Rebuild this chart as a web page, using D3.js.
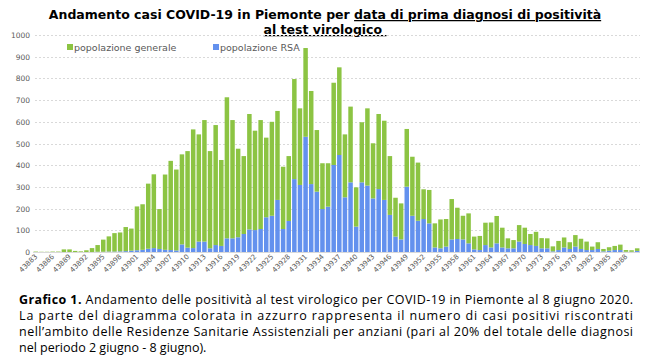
<!DOCTYPE html>
<html>
<head>
<meta charset="utf-8">
<script src="https://cdn.jsdelivr.net/npm/d3@7"></script>
<style>
  body { margin: 0; background: #fff; }
  svg { display: block; }
</style>
</head>
<body>
<svg id="chart" width="650" height="361"></svg>
<script>
// serial day numbers (Excel) 43883 .. 43990
var days = d3.range(43883, 43991);

// casi RSA (parte blu, in basso)
var rsa = [0, 0, 0, 0, 0, 0, 0, 0, 0, 0, 0, 1, 1, 2, 2, 3, 4, 6, 8, 10,
    15, 18, 14, 10, 9, 7, 35, 20, 18, 48, 48, 17, 32, 28, 63, 63, 68, 83, 104, 101,
    106, 160, 167, 240, 106, 143, 336, 309, 531, 313, 278, 198, 209, 401, 447, 252, 321, 117, 321, 306,
    247, 290, 240, 171, 71, 58, 301, 167, 144, 152, 132, 21, 17, 25, 58, 60, 58, 40, 12, 9,
    32, 21, 40, 21, 17, 17, 48, 37, 32, 28, 17, 17, 3, 9, 21, 14, 25, 14, 9, 9,
    14, 3, 6, 9, 9, 1, 1, 5];

// popolazione generale (parte verde, sopra)
var generale = [2, 1, 1, 2, 2, 12, 12, 5, 3, 8, 18, 31, 56, 70, 85, 87, 111, 102, 202, 210,
    300, 340, 184, 347, 411, 373, 415, 445, 547, 494, 560, 448, 553, 396, 650, 545, 408, 359, 532, 458,
    502, 367, 433, 410, 287, 299, 461, 353, 409, 429, 284, 211, 200, 379, 404, 290, 349, 181, 277, 356,
    254, 346, 365, 271, 179, 166, 266, 272, 268, 137, 154, 111, 133, 127, 186, 144, 109, 138, 59, 65,
    103, 115, 126, 91, 46, 38, 76, 75, 51, 65, 47, 46, 23, 42, 46, 31, 53, 47, 39, 16,
    31, 11, 16, 19, 25, 8, 7, 12];

var yTicks = [0, 100, 200, 300, 400, 500, 600, 700, 800, 900, 1000];
var seriesNames = ["popolazione generale", "popolazione RSA"];

var colGen = "#8cc443", colRsa = "#6391ee";

var svg = d3.select("#chart");

var x = d3.scaleBand().domain(days).range([33, 640]).paddingInner(0.2).paddingOuter(0.1);
var y = d3.scaleLinear().domain([0, 1000]).range([252, 35]);

// title
var title = svg.append("text")
    .attr("x", 325).attr("y", 19)
    .attr("text-anchor", "middle")
    .style("font-family", "DejaVu Sans").style("font-weight", "bold").style("font-size", "12.5px")
    .attr("fill", "#000");
title.append("tspan").text("Andamento casi COVID-19 in Piemonte per ");
title.append("tspan").text("data di prima diagnosi di positività").style("text-decoration", "underline");

svg.append("text")
    .attr("x", 325).attr("y", 34)
    .attr("text-anchor", "middle")
    .style("font-family", "DejaVu Sans").style("font-weight", "bold").style("font-size", "12.5px")
    .style("text-decoration", "underline")
    .style("white-space", "pre")
    .text("al test virologico ");

// grid
svg.append("g").selectAll("line")
    .data(yTicks.slice(1))
    .enter().append("line")
    .attr("x1", 35).attr("x2", 640)
    .attr("y1", function(d) { return Math.round(y(d)) + 0.5; })
    .attr("y2", function(d) { return Math.round(y(d)) + 0.5; })
    .attr("stroke", "#d9d9d9").attr("stroke-width", 1)
    .attr("stroke-dasharray", "2,2");

// y axis labels
svg.append("g").selectAll("text")
    .data(yTicks)
    .enter().append("text")
    .attr("x", 30).attr("y", function(d) { return y(d) + 3; })
    .attr("text-anchor", "end")
    .style("font-family", "DejaVu Sans").style("font-size", "7.5px")
    .attr("fill", "#595959")
    .text(function(d) { return d; });

// stacked bars
var rows = days.map(function(d, i) { return { day: d, rsa: rsa[i], generale: generale[i] }; });
var stack = d3.stack().keys(["rsa", "generale"])(rows);
var colors = { rsa: colRsa, generale: colGen };

svg.append("g").selectAll("g")
    .data(stack)
    .enter().append("g")
    .attr("fill", function(s) { return colors[s.key]; })
    .selectAll("rect")
    .data(function(s) { return s; })
    .enter().append("rect")
    .attr("x", function(d) { return x(d.data.day); })
    .attr("width", x.bandwidth())
    .attr("y", function(d) { return y(d[1]); })
    .attr("height", function(d) { return y(d[0]) - y(d[1]); });

// baseline
svg.append("line")
    .attr("x1", 33).attr("x2", 640).attr("y1", 252.5).attr("y2", 252.5)
    .attr("stroke", "#d9d9d9");

// x labels, every 3rd day
svg.append("g").selectAll("text")
    .data(days.filter(function(d, i) { return i % 3 === 0; }))
    .enter().append("text")
    .attr("transform", function(d) {
        return "translate(" + (x(d) + x.bandwidth() / 2 + 2) + ",257) rotate(-45)";
    })
    .attr("text-anchor", "end")
    .style("font-family", "DejaVu Sans").style("font-size", "7px")
    .attr("fill", "#595959")
    .text(function(d) { return d; });

// legend
var leg = svg.append("g").selectAll("g")
    .data(seriesNames)
    .enter().append("g")
    .attr("transform", function(d, i) { return "translate(" + (i === 0 ? 67 : 213) + ",0)"; });
leg.append("rect").attr("x", 0).attr("y", 44).attr("width", 6).attr("height", 6)
    .attr("fill", function(d, i) { return i === 0 ? colGen : colRsa; });
leg.append("text").attr("x", 7).attr("y", 51)
    .style("font-family", "DejaVu Sans").style("font-size", "9.5px")
    .attr("fill", "#595959")
    .text(function(d) { return d; });

// caption
var cap = [
    { t: "Andamento delle positività al test virologico per COVID-19 in Piemonte al 8 giugno 2020.", j: true },
    { t: "La parte del diagramma colorata in azzurro rappresenta il numero di casi positivi riscontrati", j: true },
    { t: "nell’ambito delle Residenze Sanitarie Assistenziali per anziani (pari al 20% del totale delle diagnosi", j: true },
    { t: "nel periodo 2 giugno - 8 giugno).", j: false }
];
cap.forEach(function(c, i) {
    var t = svg.append("text")
        .attr("x", 19).attr("y", 304 + i * 16)
        .style("font-family", "Open Sans").style("font-size", "12.5px")
        .attr("fill", "#000");
    if (i === 0) {
        t.append("tspan").style("font-weight", "bold").text("Grafico 1. ");
    }
    t.append("tspan").text(c.t);
    if (c.j) t.attr("textLength", 614).attr("lengthAdjust", "spacing");
});
</script>
</body>
</html>
